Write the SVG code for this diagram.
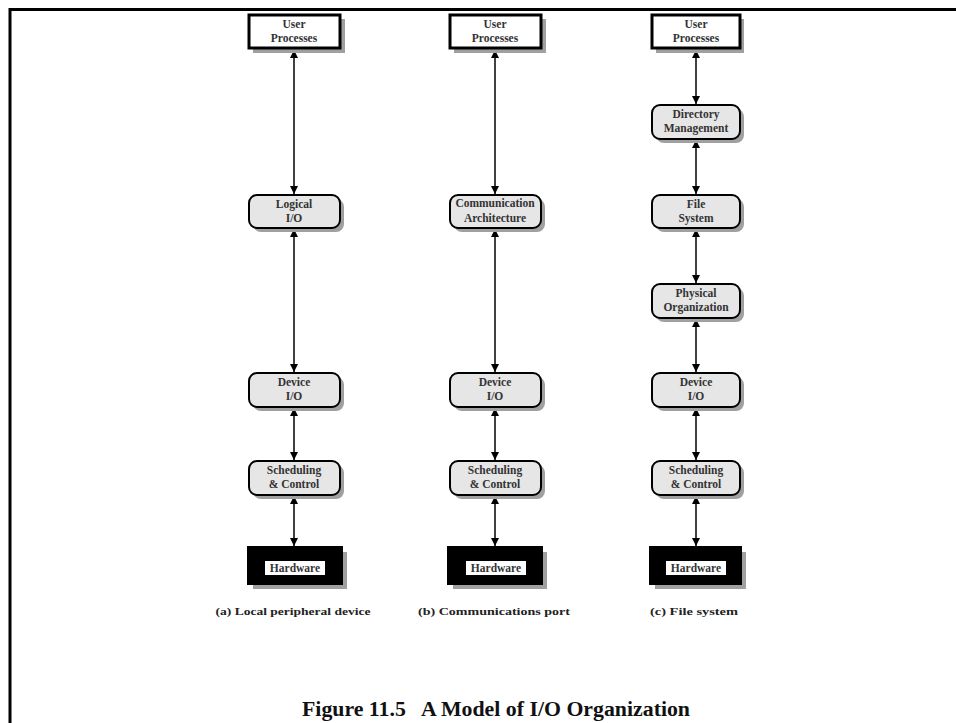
<svg xmlns="http://www.w3.org/2000/svg" width="956" height="723" viewBox="0 0 956 723">
<defs>
<marker id="ah" viewBox="0 0 10 10" refX="10" refY="5" markerWidth="8" markerHeight="8" markerUnits="userSpaceOnUse" orient="auto-start-reverse">
<path d="M0,0 L10,5 L0,10 z" fill="#000"/>
</marker>
</defs>
<style>
.sh{fill:#a0a0a0;}
.up{fill:#fff;stroke:#000;stroke-width:3;}
.rn{fill:#e6e6e6;stroke:#000;stroke-width:2;}
.hw{fill:#000;stroke:#000;stroke-width:2;}
.hl{fill:#fff;}
.t{font-family:"Liberation Serif",serif;font-weight:bold;font-size:11.5px;fill:#333;text-anchor:middle;}
.cap{font-family:"Liberation Serif",serif;font-weight:bold;font-size:11px;fill:#222;text-anchor:middle;}
.ttl{font-family:"Liberation Serif",serif;font-weight:bold;font-size:20px;fill:#111;text-anchor:middle;}
.c{stroke:#000;stroke-width:1.5;fill:none;marker-start:url(#ah);marker-end:url(#ah);}
</style>
<rect x="0" y="0" width="956" height="723" fill="#fff"/>
<path d="M10,723 L10,9.5 L956,9.5" fill="none" stroke="#000" stroke-width="3"/>

<g id="connectors">
<line class="c" x1="294" y1="50" x2="294" y2="194"/>
<line class="c" x1="294" y1="229" x2="294" y2="372"/>
<line class="c" x1="294" y1="408" x2="294" y2="460"/>
<line class="c" x1="294" y1="496" x2="294" y2="546"/>

<line class="c" x1="495" y1="50" x2="495" y2="194"/>
<line class="c" x1="495" y1="229" x2="495" y2="372"/>
<line class="c" x1="495" y1="408" x2="495" y2="460"/>
<line class="c" x1="495" y1="496" x2="495" y2="546"/>

<line class="c" x1="696" y1="50" x2="696" y2="104"/>
<line class="c" x1="696" y1="140" x2="696" y2="194"/>
<line class="c" x1="696" y1="229" x2="696" y2="283"/>
<line class="c" x1="696" y1="319" x2="696" y2="372"/>
<line class="c" x1="696" y1="408" x2="696" y2="460"/>
<line class="c" x1="696" y1="496" x2="696" y2="546"/>
</g>

<!-- Column a -->
<g id="a-user">
<rect class="sh" x="253" y="19" width="92" height="34"/>
<rect class="up" x="249" y="15" width="91" height="33"/>
<text class="t" x="294" y="28">User</text><text class="t" x="294" y="42">Processes</text>
</g>
<g id="a-logical">
<rect class="sh" x="253" y="199" width="91" height="33" rx="8"/>
<rect class="rn" x="249" y="195" width="91" height="33" rx="8"/>
<text class="t" x="294" y="208">Logical</text><text class="t" x="294" y="222">I/O</text>
</g>
<g id="a-device">
<rect class="sh" x="253" y="377" width="91" height="34" rx="8"/>
<rect class="rn" x="249" y="373" width="91" height="34" rx="8"/>
<text class="t" x="294" y="386">Device</text><text class="t" x="294" y="400">I/O</text>
</g>
<g id="a-sched">
<rect class="sh" x="253" y="465" width="91" height="34" rx="8"/>
<rect class="rn" x="249" y="461" width="91" height="34" rx="8"/>
<text class="t" x="294" y="474">Scheduling</text><text class="t" x="294" y="488">&amp; Control</text>
</g>
<g id="a-hw">
<rect class="sh" x="253" y="552" width="94" height="37"/>
<rect class="hw" x="248" y="547" width="94" height="37"/>
<rect class="hl" x="265" y="561" width="60" height="14"/>
<text class="t" x="295" y="572">Hardware</text>
</g>
<text class="cap" x="293" y="615" textLength="155" lengthAdjust="spacingAndGlyphs">(a) Local peripheral device</text>

<!-- Column b -->
<g id="b-user">
<rect class="sh" x="454" y="19" width="92" height="34"/>
<rect class="up" x="450" y="15" width="91" height="33"/>
<text class="t" x="495" y="28">User</text><text class="t" x="495" y="42">Processes</text>
</g>
<g id="b-comm">
<rect class="sh" x="454" y="199" width="91" height="33" rx="8"/>
<rect class="rn" x="450" y="195" width="91" height="33" rx="8"/>
<text class="t" x="495" y="207">Communication</text><text class="t" x="495" y="222">Architecture</text>
</g>
<g id="b-device">
<rect class="sh" x="454" y="377" width="91" height="34" rx="8"/>
<rect class="rn" x="450" y="373" width="91" height="34" rx="8"/>
<text class="t" x="495" y="386">Device</text><text class="t" x="495" y="400">I/O</text>
</g>
<g id="b-sched">
<rect class="sh" x="454" y="465" width="91" height="34" rx="8"/>
<rect class="rn" x="450" y="461" width="91" height="34" rx="8"/>
<text class="t" x="495" y="474">Scheduling</text><text class="t" x="495" y="488">&amp; Control</text>
</g>
<g id="b-hw">
<rect class="sh" x="453" y="552" width="94" height="37"/>
<rect class="hw" x="448" y="547" width="94" height="37"/>
<rect class="hl" x="466" y="561" width="60" height="14"/>
<text class="t" x="496" y="572">Hardware</text>
</g>
<text class="cap" x="494" y="615" textLength="152" lengthAdjust="spacingAndGlyphs">(b) Communications port</text>

<!-- Column c -->
<g id="c-user">
<rect class="sh" x="656" y="19" width="88" height="34"/>
<rect class="up" x="652" y="15" width="88" height="33"/>
<text class="t" x="696" y="28">User</text><text class="t" x="696" y="42">Processes</text>
</g>
<g id="c-dir">
<rect class="sh" x="656" y="109" width="88" height="34" rx="8"/>
<rect class="rn" x="652" y="105" width="88" height="34" rx="8"/>
<text class="t" x="696" y="118">Directory</text><text class="t" x="696" y="132">Management</text>
</g>
<g id="c-fs">
<rect class="sh" x="656" y="199" width="88" height="33" rx="8"/>
<rect class="rn" x="652" y="195" width="88" height="33" rx="8"/>
<text class="t" x="696" y="208">File</text><text class="t" x="696" y="222">System</text>
</g>
<g id="c-phys">
<rect class="sh" x="656" y="288" width="88" height="34" rx="8"/>
<rect class="rn" x="652" y="284" width="88" height="34" rx="8"/>
<text class="t" x="696" y="297">Physical</text><text class="t" x="696" y="311">Organization</text>
</g>
<g id="c-device">
<rect class="sh" x="656" y="377" width="88" height="34" rx="8"/>
<rect class="rn" x="652" y="373" width="88" height="34" rx="8"/>
<text class="t" x="696" y="386">Device</text><text class="t" x="696" y="400">I/O</text>
</g>
<g id="c-sched">
<rect class="sh" x="656" y="465" width="88" height="34" rx="8"/>
<rect class="rn" x="652" y="461" width="88" height="34" rx="8"/>
<text class="t" x="696" y="474">Scheduling</text><text class="t" x="696" y="488">&amp; Control</text>
</g>
<g id="c-hw">
<rect class="sh" x="655" y="552" width="91" height="37"/>
<rect class="hw" x="650" y="547" width="91" height="37"/>
<rect class="hl" x="666" y="561" width="60" height="14"/>
<text class="t" x="696" y="572">Hardware</text>
</g>
<text class="cap" x="694" y="615" textLength="88" lengthAdjust="spacingAndGlyphs">(c) File system</text>

<text class="ttl" x="496" y="716" xml:space="preserve" textLength="388" lengthAdjust="spacingAndGlyphs">Figure 11.5   A Model of I/O Organization</text>
</svg>
